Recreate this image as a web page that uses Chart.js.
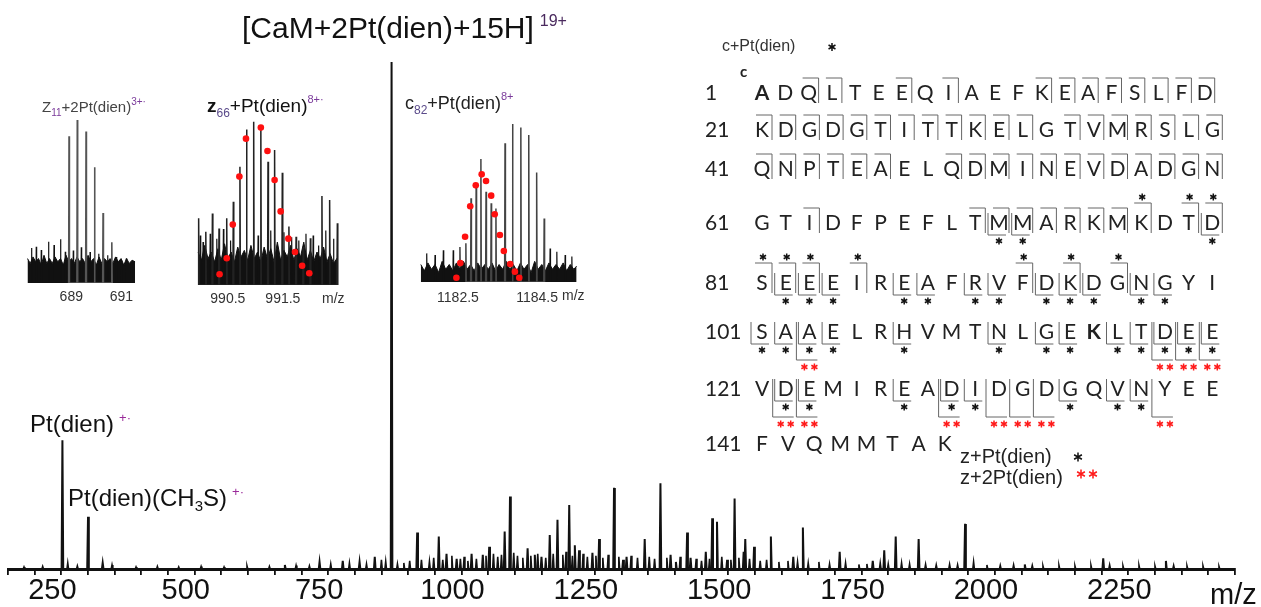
<!DOCTYPE html>
<html>
<head>
<meta charset="utf-8">
<script src="https://cdn.jsdelivr.net/npm/chart.js@4.4.1/dist/chart.umd.min.js"></script>
<style>
  body { margin: 0; background: #fff; }
  #wrap { position: relative; width: 1261px; height: 607px; }
  canvas { position: absolute; }
</style>
</head>
<body>
<div id="wrap">
  <canvas id="spectrum" width="1261" height="607" style="left:0;top:0"></canvas>
  <canvas id="inset1" width="113" height="191" style="left:27px;top:120px"></canvas>
  <canvas id="inset2" width="142" height="193" style="left:197px;top:120px"></canvas>
  <canvas id="inset3" width="157" height="191" style="left:420px;top:123px"></canvas>
</div>
<script>
// main spectrum: labelled peaks (m/z, relative intensity %)
var peakMz = [252, 300, 327.5, 669, 734, 777.5, 809, 837.5, 869, 917, 957.5, 972, 991, 1019, 1040, 1052, 1081, 1091, 1124, 1137.5,
  1150, 1165.5, 1180, 1202, 1212.5, 1220.5, 1245.5, 1258, 1286, 1303, 1309.5, 1343.5, 1373, 1392, 1402, 1423, 1429.5, 1458, 1470, 1479,
  1498, 1512, 1529, 1532, 1548.5, 1580, 1622, 1640, 1709, 1771, 1792.5, 1814, 1857, 1944, 2056, 2203, 2320.5];
var peakInt = [25.4, 10.3, 1.2, 0.8, 1.4, 1.6, 1.4, 2.4, 100, 7.2, 6.4, 3, 2, 3, 2.8, 4.4, 7.4, 14.3, 4.1, 2.8,
  2.4, 6.7, 9.7, 12.6, 4.7, 3.7, 3.2, 5.9, 16, 1.8, 2.4, 5.9, 16.9, 2.8, 1.4, 7.2, 2.2, 3.4, 10, 9.3,
  1.8, 13.9, 3.4, 5.9, 4.4, 6.4, 2.4, 8.2, 3.4, 1.6, 3.7, 6.4, 5.9, 8.9, 0.9, 2.1, 1.6];

// small baseline peaks
var grassMz = [180, 215, 262, 280, 345, 390, 430, 470, 512, 555, 598, 640, 690, 715, 755, 790, 822, 850, 858,
  880, 892, 903, 925, 940, 948, 965, 982, 998, 1005, 1012, 1028, 1046, 1060, 1068, 1075, 1098, 1105, 1115, 1130,
  1143, 1158, 1172, 1190, 1196, 1208, 1228, 1236, 1252, 1265, 1275, 1295, 1318, 1330, 1352, 1362, 1385, 1410,
  1440, 1450, 1465, 1488, 1505, 1520, 1540, 1560, 1572, 1595, 1612, 1630, 1650, 1670, 1690, 1720, 1745, 1760,
  1785, 1800, 1825, 1840, 1870, 1890, 1915, 1930, 1960, 1985, 2010, 2035, 2070, 2090, 2120, 2150, 2180, 2215,
  2240, 2270, 2300, 2335, 2360, 2390, 2420];
var grassInt = [0.4, 0.5, 1.2, 0.6, 0.8, 0.4, 0.5, 0.4, 0.5, 0.4, 0.6, 0.5, 0.7, 0.6, 1.0, 1.2, 1.0, 1.8, 1.5,
  1.0, 1.2, 1.6, 1.8, 1.5, 2.2, 1.8, 2.6, 2.0, 2.4, 1.6, 2.0, 2.6, 3.0, 2.4, 2.8, 3.2, 2.6, 2.2, 2.6,
  3.0, 2.2, 3.0, 2.8, 3.4, 2.6, 3.0, 2.4, 2.6, 2.2, 2.8, 2.4, 2.6, 2.2, 2.4, 2.0, 2.2, 2.4,
  2.0, 1.6, 2.0, 2.4, 1.8, 2.2, 2.0, 1.6, 1.8, 1.4, 1.6, 1.4, 1.2, 1.4, 1.0, 1.2, 0.9, 1.0,
  1.2, 1.0, 1.2, 1.0, 0.9, 0.8, 0.9, 0.8, 1.4, 0.8, 0.7, 0.8, 0.7, 0.6, 0.7, 0.6, 0.7, 0.8,
  0.6, 0.7, 0.6, 0.7, 0.6, 0.6, 0.5];

var tickLabels = [250, 500, 750, 1000, 1250, 1500, 1750, 2000, 2250];

// inset 1: z11+2Pt(dien) 3+
var ins1Mz = [688.91, 689.24, 689.59, 689.93, 690.27, 690.62];
var ins1Int = [90, 100, 93, 71, 43, 25];
var ins1GrassMz = [687.41, 687.60, 687.80, 688.09, 688.31, 688.57, 688.76, 689.08, 689.40, 689.75, 690.10, 690.45, 690.80, 691.00, 691.20, 691.40];
var ins1GrassInt = [21.5, 22.3, 20.2, 25.3, 23.3, 26.8, 19.2, 20, 22, 19, 18, 17, 16, 14, 15, 13];
var ins1NoiseMz = [687.25, 687.36, 687.47, 687.58, 687.69, 687.8, 687.91, 688.02, 688.13, 688.24, 688.35, 688.46, 688.57, 688.68,
  688.79, 688.9, 689.01, 689.12, 689.23, 689.34, 689.45, 689.56, 689.67, 689.78, 689.89, 690.0, 690.11, 690.22, 690.33,
  690.44, 690.55, 690.66, 690.77, 690.88, 690.99, 691.1, 691.21, 691.32, 691.43, 691.55];
var ins1NoiseInt = [15, 12, 16, 13, 15, 11, 17, 12, 15, 12, 16, 13, 15, 11, 17, 13, 15, 12, 16, 13, 15, 12, 17, 13, 15, 11, 16, 12,
  15, 13, 15, 12, 16, 13, 15, 11, 15, 12, 14, 13];
var ins1Ticks = [689, 691];

// inset 2: z66+Pt(dien) 8+
var ins2Mz = [989.97, 990.10, 990.22, 990.34, 990.48, 990.60, 990.72, 990.84, 990.97, 991.10, 991.23, 991.35, 991.49, 991.61,
  991.74, 991.87, 992.00, 992.21, 992.35, 992.49];
var ins2Int = [40.4, 32.3, 43.4, 34.3, 40.4, 50.5, 71.7, 94.3, 99, 96, 74.7, 81.8, 68.1, 35.4, 29.3, 23.2, 28.3, 53.9, 51.5, 37.4];
var ins2FitMz = [990.35, 990.48, 990.59, 990.71, 990.83, 991.10, 991.22, 991.35, 991.46, 991.60, 991.72, 991.85, 991.98];
var ins2FitInt = [6.5, 16.2, 36.6, 65.7, 88.7, 95.4, 81.2, 63.6, 44.6, 28.1, 20, 11.7, 7.1];
var ins2GrassMz = [990.0, 990.05, 990.18, 990.3, 990.42, 990.55, 991.05, 991.28, 991.52, 991.66, 991.79, 991.92, 992.05, 992.15, 992.28, 992.42];
var ins2GrassInt = [30, 26, 31, 28, 34, 27, 30, 33, 32, 29, 27, 31, 30, 24, 33, 28];
var ins2NoiseMz = [989.96, 990.02, 990.08, 990.14, 990.2, 990.26, 990.32, 990.38, 990.44, 990.5, 990.56, 990.62, 990.68, 990.74,
  990.8, 990.86, 990.92, 990.98, 991.04, 991.1, 991.16, 991.22, 991.28, 991.34, 991.4, 991.46, 991.52, 991.58, 991.64,
  991.7, 991.76, 991.82, 991.88, 991.94, 992.0, 992.06, 992.12, 992.18, 992.24, 992.3, 992.36, 992.42, 992.5];
var ins2NoiseInt = [20, 15, 24, 16, 20, 14, 22, 15, 25, 16, 20, 14, 23, 17, 21, 15, 24, 16, 20, 14, 23, 16, 22, 14, 26, 15,
  21, 17, 24, 15, 22, 17, 26, 15, 21, 14, 20, 16, 23, 14, 19, 13, 17];
var ins2Ticks = [990.5, 991.5];

// inset 3: c82+Pt(dien) 8+
var ins3Mz = [1182.70, 1182.83, 1182.96, 1183.08, 1183.21, 1183.34, 1183.46, 1183.69, 1183.88, 1184.09, 1184.29, 1184.49, 1184.68];
var ins3Int = [24.3, 52.6, 62.1, 77.4, 56.8, 49.5, 46.3, 87.2, 99.4, 97.1, 92.5, 68.8, 40];
var ins3FitMz = [1182.46, 1182.56, 1182.68, 1182.81, 1182.95, 1183.10, 1183.21, 1183.34, 1183.43, 1183.56, 1183.66, 1183.82, 1183.94, 1184.05];
var ins3FitInt = [2.7, 11.9, 28.5, 47.6, 60.8, 67.7, 63.5, 54.3, 42.6, 29.6, 19.5, 11.3, 6.5, 2.7];
var ins3GrassMz = [1181.71, 1181.92, 1182.13, 1182.38, 1182.55, 1184.83, 1185.0, 1185.21, 1185.38];
var ins3GrassInt = [18, 17, 20, 20, 22, 21, 19, 17, 16];
var ins3NoiseMz = [1181.56, 1181.65, 1181.74, 1181.83, 1181.92, 1182.01, 1182.1, 1182.19, 1182.28, 1182.37, 1182.46, 1182.55,
  1182.64, 1182.73, 1182.82, 1182.91, 1183.0, 1183.09, 1183.18, 1183.27, 1183.36, 1183.45, 1183.54, 1183.63, 1183.72,
  1183.81, 1183.9, 1183.99, 1184.08, 1184.17, 1184.26, 1184.35, 1184.44, 1184.53, 1184.62, 1184.71, 1184.8, 1184.89,
  1184.98, 1185.07, 1185.16, 1185.25, 1185.34, 1185.43, 1185.5];
var ins3NoiseInt = [11, 7, 12, 8, 11, 6, 13, 8, 11, 7, 12, 8, 13, 8, 11, 7, 12, 8, 11, 8, 12, 7, 11, 8, 13, 8, 11, 7, 12, 8,
  11, 6, 13, 8, 11, 7, 12, 8, 11, 8, 12, 7, 11, 8, 10];
var ins3Ticks = [1182.5, 1184.5];

// CaM sequence and fragment sites
var seqRows = ["ADQLTEEQIAEFKEAFSLFD", "KDGDGTITTKELGTVMRSLG", "QNPTEAELQDMINEVDADGN", "GTIDFPEFLTMMARKMKDTD",
  "SEEEIREAFRVFDKDGNGYI", "SAAELRHVMTNLGEKLTDEE", "VDEMIREADIDGDGQVNYEE", "FVQMMTAK"];
var rowStart = [1, 21, 41, 61, 81, 101, 121, 141];
var cSites = [3, 4, 7, 9, 13, 14, 15, 16, 17, 18, 19, 20,
  21, 22, 23, 24, 25, 26, 27, 28, 29, 30, 31, 32, 34, 35, 36, 37, 38, 39, 40,
  41, 42, 43, 44, 45, 46, 49, 50, 51, 52, 53, 54, 55, 56, 57, 58, 59, 60,
  63, 70, 71, 72, 73, 74, 75, 76];
var cStarSites = [77, 79, 80, 81, 82, 83, 85, 92, 94, 96];
var zSites = [71, 72, 80, 82, 83, 84, 87, 88, 90, 91, 93, 94, 95, 97, 98,
  101, 102, 103, 104, 107, 111, 113, 114, 116, 117, 118, 119, 120,
  122, 123, 127, 129, 130, 134, 136, 137];
var zzSites = [103, 118, 119, 120, 122, 123, 129, 131, 132, 133, 138];
var boldSites = [1, 115];

function sticks(mz, inten, hw) {
  var pts = [];
  mz.forEach(function (m, i) {
    pts.push({x: m - hw, y: 0}, {x: m, y: inten[i]}, {x: m + hw, y: 0});
  });
  pts.sort(function (a, b) { return a.x - b.x; });
  return pts;
}

function pairs(mz, inten) {
  return mz.map(function (m, i) { return {x: m, y: inten[i]}; });
}

function rich(ctx, x, y, parts) {
  parts.forEach(function (p) {
    ctx.font = (p.w || 'normal') + ' ' + p.s + 'px ' + (p.f || '"Liberation Sans", Arial, sans-serif');
    ctx.fillStyle = p.c || '#111';
    ctx.fillText(p.t, x, y + (p.dy || 0));
    x += ctx.measureText(p.t).width + (p.gap || 0);
  });
}

function star(ctx, x, y, r, color) {
  ctx.strokeStyle = color;
  ctx.lineWidth = 1.5;
  ctx.beginPath();
  for (var k = 0; k < 3; k++) {
    var a = Math.PI / 2 + k * Math.PI / 3;
    ctx.moveTo(x - r * Math.cos(a), y - r * Math.sin(a));
    ctx.lineTo(x + r * Math.cos(a), y + r * Math.sin(a));
  }
  ctx.stroke();
}

var labelsPlugin = {
  id: 'labels',
  afterDraw: function (chart) {
    var ctx = chart.ctx;
    ctx.save();
    ctx.textAlign = 'left';
    ctx.textBaseline = 'alphabetic';

    rich(ctx, 242, 38, [{t: '[CaM+2Pt(dien)+15H]', s: 30, c: '#111', gap: 6}, {t: '19+', s: 16, dy: -12, c: '#4a2a5e'}]);
    rich(ctx, 30, 432, [{t: 'Pt(dien)', s: 24, gap: 5}, {t: '+·', s: 13, dy: -10, c: '#9a2a9a'}]);
    rich(ctx, 68, 506, [{t: 'Pt(dien)(CH', s: 24}, {t: '3', s: 15, dy: 5}, {t: 'S)', s: 24, gap: 5}, {t: '+·', s: 13, dy: -10, c: '#9a2a9a'}]);
    rich(ctx, 1210, 604, [{t: 'm/z', s: 29}]);

    rich(ctx, 42, 112, [{t: 'Z', s: 15, c: '#444'}, {t: '11', s: 10, dy: 4, c: '#7a3a9a'}, {t: '+2Pt(dien)', s: 15, c: '#444'}, {t: '3+·', s: 10, dy: -7, c: '#7a3a9a'}]);
    rich(ctx, 207, 112, [{t: 'z', s: 19, w: 'bold', c: '#111'}, {t: '66', s: 12, dy: 5, c: '#5a4a8a'}, {t: '+Pt(dien)', s: 19, c: '#111'}, {t: '8+·', s: 11, dy: -9, c: '#7a3a9a'}]);
    rich(ctx, 405, 109, [{t: 'c', s: 18, c: '#222'}, {t: '82', s: 12, dy: 5, c: '#5a4a8a'}, {t: '+Pt(dien)', s: 18, c: '#222'}, {t: '8+', s: 11, dy: -9, c: '#7a3a9a'}]);
    rich(ctx, 322, 303, [{t: 'm/z', s: 14, c: '#333'}]);
    rich(ctx, 562, 300, [{t: 'm/z', s: 14, c: '#333'}]);

    // sequence map
    var rowY = [92, 129, 168, 222, 282, 331, 388, 443];
    var rowStep = [23.3, 23.7, 23.7, 23.7, 23.7, 23.7, 23.7, 26.1];
    var seqFont = 'Lato, "Open Sans", sans-serif';
    rich(ctx, 722, 51, [{t: 'c+Pt(dien)', s: 16, c: '#333'}]);
    star(ctx, 832, 47, 4, '#111');
    rich(ctx, 740, 77, [{t: 'c', s: 15, w: 'bold', f: seqFont, c: '#222'}]);

    var pos = {};
    seqRows.forEach(function (row, r) {
      var cy = rowY[r];
      rich(ctx, 705, cy + 7.5, [{t: String(rowStart[r]), s: 21, f: seqFont, c: '#222'}]);
      ctx.textAlign = 'center';
      for (var i = 0; i < row.length; i++) {
        var n = rowStart[r] + i;
        var cx = 762 + i * rowStep[r];
        pos[n] = [cx, cy];
        ctx.font = (boldSites.indexOf(n) >= 0 ? 'bold ' : '') + '21px ' + seqFont;
        ctx.fillStyle = '#222';
        ctx.fillText(row[i], cx, cy + 7.5);
      }
      ctx.textAlign = 'left';
    });

    function seg(x1, y1, x2, y2) {
      ctx.strokeStyle = '#666';
      ctx.lineWidth = 1;
      ctx.beginPath();
      ctx.moveTo(x1, y1);
      ctx.lineTo(x2, y2);
      ctx.stroke();
    }
    cSites.forEach(function (n) {
      var p = pos[n];
      seg(p[0] - 6, p[1] - 14, p[0] + 10, p[1] - 14);
      seg(p[0] + 10, p[1] - 14, p[0] + 10, p[1] + 11);
    });
    cStarSites.forEach(function (n) {
      var p = pos[n];
      seg(p[0] - 7, p[1] - 19, p[0] + 10, p[1] - 19);
      seg(p[0] + 10, p[1] - 19, p[0] + 10, p[1] + 11);
      star(ctx, p[0] + 1, p[1] - 25, 3.5, '#111');
    });
    zSites.forEach(function (n) {
      var p = pos[n];
      seg(p[0] - 11, p[1] - 9, p[0] - 11, p[1] + 13);
      seg(p[0] - 11, p[1] + 13, p[0] + 7, p[1] + 13);
      star(ctx, p[0], p[1] + 19, 3.5, '#111');
    });
    zzSites.forEach(function (n) {
      var p = pos[n];
      seg(p[0] - 13, p[1] - 9, p[0] - 13, p[1] + 29);
      seg(p[0] - 13, p[1] + 29, p[0] + 8, p[1] + 29);
      star(ctx, p[0] - 5, p[1] + 36, 3.5, '#ff1a1a');
      star(ctx, p[0] + 5, p[1] + 36, 3.5, '#ff1a1a');
    });

    rich(ctx, 960, 463, [{t: 'z+Pt(dien)', s: 20, c: '#222'}]);
    star(ctx, 1078, 457, 4.5, '#111');
    rich(ctx, 960, 484, [{t: 'z+2Pt(dien)', s: 20, c: '#222'}]);
    star(ctx, 1081, 474, 4.5, '#ff1a1a');
    star(ctx, 1093, 474, 4.5, '#ff1a1a');
    ctx.restore();
  }
};

new Chart("spectrum", {
  type: "line",
  data: {
    datasets: [
      { data: sticks(peakMz, peakInt, 1.5), borderColor: "#111", borderWidth: 2, pointRadius: 0, tension: 0 },
      { data: sticks(grassMz, grassInt, 1.5), borderColor: "#111", borderWidth: 1.6, pointRadius: 0, tension: 0 }
    ]
  },
  options: {
    responsive: false,
    animation: false,
    events: [],
    layout: { padding: { left: 8, right: 26, top: 62, bottom: 0 }, autoPadding: false },
    plugins: { legend: { display: false }, tooltip: { enabled: false } },
    scales: {
      x: {
        type: "linear", min: 150, max: 2450,
        ticks: {
          stepSize: 50, autoSkip: false, maxRotation: 0, labelOffset: -9, padding: 1.5, color: "#111",
          font: { family: "'Liberation Sans', Arial, sans-serif", size: 29, lineHeight: 1 },
          callback: function (v) { return tickLabels.indexOf(v) >= 0 ? String(v) : ""; }
        },
        grid: { drawOnChartArea: false, drawTicks: true, tickLength: 6, color: "#111", lineWidth: 1.8 },
        border: { display: true, color: "#111", width: 3 }
      },
      y: { display: false, min: 0, max: 100 }
    }
  },
  plugins: [labelsPlugin]
});

function insetChart(id, xmin, xmax, ticks, pad, sets) {
  new Chart(id, {
    type: "line",
    data: { datasets: sets },
    options: {
      responsive: false,
      animation: false,
      events: [],
      layout: { padding: 0, autoPadding: false },
      plugins: { legend: { display: false }, tooltip: { enabled: false } },
      scales: {
        x: {
          type: "linear", min: xmin, max: xmax,
          afterBuildTicks: function (scale) { scale.ticks = ticks.map(function (v) { return {value: v}; }); },
          ticks: {
            autoSkip: false, maxRotation: 0, padding: pad, color: "#333",
            font: { family: "'Liberation Sans', Arial, sans-serif", size: 14, lineHeight: 1 },
            callback: function (v) { return String(v); }
          },
          grid: { display: false, drawTicks: false },
          border: { display: false }
        },
        y: { display: false, min: 0, max: 100 }
      }
    }
  });
}

insetChart("inset1", 687.23, 691.58, ins1Ticks, 7, [
  { data: sticks(ins1Mz, ins1Int, 0.015), borderColor: "#555", borderWidth: 1.6, pointRadius: 0 },
  { data: sticks(ins1GrassMz, ins1GrassInt, 0.015), borderColor: "#111", borderWidth: 1.2, pointRadius: 0 },
  { data: pairs(ins1NoiseMz, ins1NoiseInt), borderColor: "#111", borderWidth: 1, backgroundColor: "#111", fill: "origin", pointRadius: 0 }
]);

insetChart("inset2", 989.94, 992.52, ins2Ticks, 7, [
  { data: pairs(ins2FitMz, ins2FitInt), showLine: false, pointRadius: 3.3, pointBackgroundColor: "#ff1010", pointBorderWidth: 0 },
  { data: sticks(ins2Mz, ins2Int, 0.008), borderColor: "#222", borderWidth: 1.5, pointRadius: 0 },
  { data: sticks(ins2GrassMz, ins2GrassInt, 0.008), borderColor: "#111", borderWidth: 1.2, pointRadius: 0 },
  { data: pairs(ins2NoiseMz, ins2NoiseInt), borderColor: "#111", borderWidth: 1, backgroundColor: "#111", fill: "origin", pointRadius: 0 }
]);

insetChart("inset3", 1181.54, 1185.51, ins3Ticks, 9, [
  { data: pairs(ins3FitMz, ins3FitInt), showLine: false, pointRadius: 3.3, pointBackgroundColor: "#ff1010", pointBorderWidth: 0 },
  { data: sticks(ins3Mz, ins3Int, 0.01), borderColor: "#444", borderWidth: 1.5, pointRadius: 0 },
  { data: sticks(ins3GrassMz, ins3GrassInt, 0.01), borderColor: "#111", borderWidth: 1.2, pointRadius: 0 },
  { data: pairs(ins3NoiseMz, ins3NoiseInt), borderColor: "#111", borderWidth: 1, backgroundColor: "#111", fill: "origin", pointRadius: 0 }
]);
</script>
</body>
</html>
